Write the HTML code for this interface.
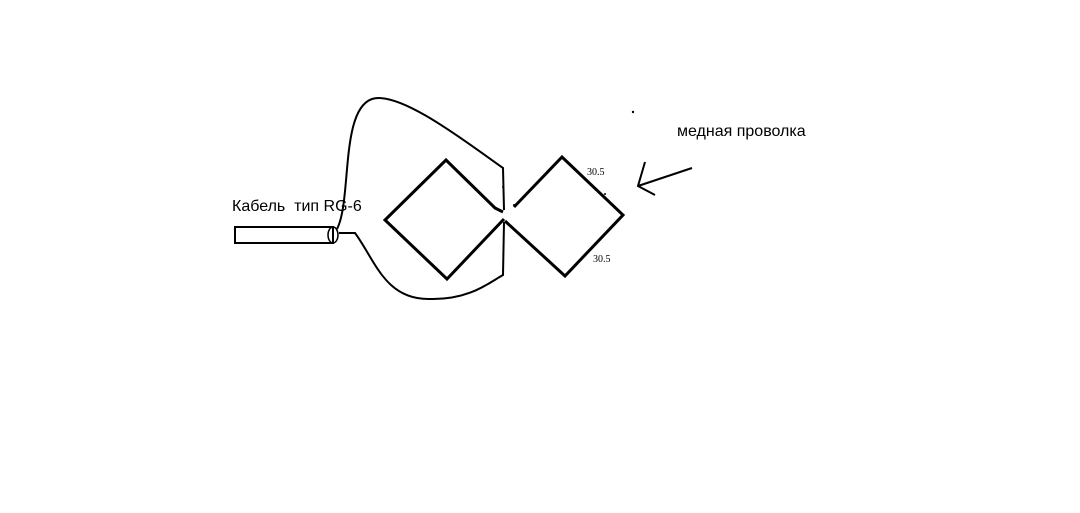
<!DOCTYPE html>
<html><head><meta charset="utf-8"><style>
html,body{margin:0;padding:0;background:#fff;width:1080px;height:513px;overflow:hidden}
svg{display:block}
</style></head><body>
<svg width="1080" height="513" viewBox="0 0 1080 513" xmlns="http://www.w3.org/2000/svg">
<g fill="none" stroke="#000" stroke-linejoin="miter">
<path d="M503,212 L495,208 L446,160 L385,220 L447,279 L504,219" stroke-width="3"/>
<path d="M514,207 L562,157 L623,215 L565,276 L505,221" stroke-width="3"/>
<rect x="235" y="227" width="98" height="16" stroke-width="2"/>
<ellipse cx="333" cy="235" rx="5" ry="8" stroke-width="1.5"/>
<path d="M337,229 C352,200 340,110 372,99 C400,90 470,145 503,168 L504,210" stroke-width="2"/>
<path d="M339,233 L355,233 C375,260 385,300 430,299 C470,300 490,282 503,275 L504,222" stroke-width="2"/>
<path d="M692,168 L638,186 M645,162 L638,186 L655,195" stroke-width="2"/>
</g>
<circle cx="633" cy="112" r="1.2" fill="#000"/>
<circle cx="503" cy="187" r="1" fill="#000"/>
<circle cx="514" cy="205" r="1" fill="#000"/>
<circle cx="605" cy="194" r="1" fill="#000"/>
<text x="232" y="211" font-family="Liberation Sans, sans-serif" font-size="16" xml:space="preserve" style="white-space:pre">Кабель  тип RG-6</text>
<text x="677" y="136" font-family="Liberation Sans, sans-serif" font-size="16">медная проволка</text>
<text x="587" y="175" font-family="Liberation Serif, serif" font-size="10">30.5</text>
<text x="593" y="262" font-family="Liberation Serif, serif" font-size="10">30.5</text>
</svg>
</body></html>
